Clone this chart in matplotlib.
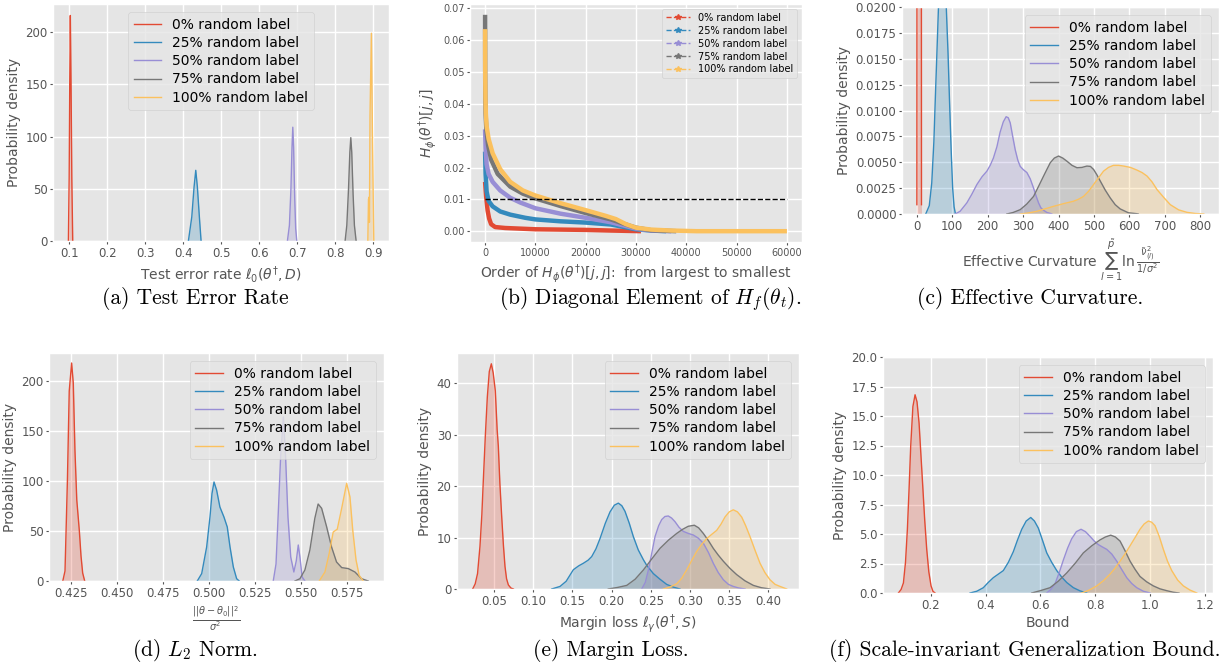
import matplotlib
matplotlib.use('Agg')
import matplotlib.pyplot as plt
from matplotlib.lines import Line2D

plt.style.use('ggplot')
plt.rcParams['font.family'] = ['DejaVu Sans']

labels = ['0% random label', '25% random label', '50% random label',
          '75% random label', '100% random label']
colors = ['#E24A33', '#348ABD', '#988ED5', '#777777', '#FBC15E']

# ---------------- (a) Test error rate densities ----------------
err_x = [
    [0.0975, 0.0995, 0.1010, 0.1026, 0.1045, 0.1065, 0.1089],
    [0.4132, 0.4221, 0.4282, 0.4326, 0.4368, 0.4421, 0.4466],
    [0.6737, 0.679, 0.683, 0.6858, 0.6879, 0.6900, 0.6930, 0.6955, 0.6984],
    [0.8255, 0.830, 0.8345, 0.8380, 0.8405, 0.843, 0.8465, 0.850, 0.8545],
    [0.8853, 0.8870, 0.8885, 0.8895, 0.8910, 0.8947, 0.8975, 0.9010],
]
err_y = [
    [0, 60, 150, 216, 150, 60, 0],
    [0, 23, 52, 67.7, 52, 23, 0],
    [0, 15, 50, 90, 109, 90, 40, 12, 0],
    [0, 15, 50, 85, 99, 85, 45, 15, 0],
    [0, 40, 42, 18, 120, 199, 100, 0],
]

# ---------------- (b) sorted diagonal Hessian elements ----------------
diag_x = [
    [0, 200, 500, 800, 1200, 2000, 4000, 10000, 15000, 20000, 25000, 28000, 31000],
    [0, 100, 300, 700, 1500, 3000, 5000, 8000, 10000, 15000, 20000, 25000, 28000, 30000, 33000, 36000],
    [0, 100, 300, 700, 1500, 3000, 5000, 7000, 10000, 15000, 20000, 25000, 28000, 30000, 33000, 37000],
    [0, 15, 40, 100, 250, 600, 1200, 2500, 5000, 7500, 10000, 15000, 20000, 25000, 28000, 30000, 33000, 38000],
    [0, 10, 30, 70, 150, 300, 700, 1500, 3000, 5000, 7500, 10000, 15000, 20000, 24000, 26000, 28000, 30000,
     33000, 37000, 42000, 60000],
]
diag_y = [
    [0.0155, 0.011, 0.0065, 0.004, 0.0022, 0.0013, 0.001, 0.0006, 0.0005, 0.0004, 0.0002, 0.0001, 0.0],
    [0.025, 0.018, 0.0125, 0.0095, 0.0078, 0.0062, 0.0052, 0.0042, 0.0037, 0.0031, 0.0027, 0.0021, 0.0012,
     0.0006, 0.0002, 0.0],
    [0.032, 0.026, 0.021, 0.018, 0.0155, 0.0128, 0.0105, 0.009, 0.0072, 0.0055, 0.0042, 0.0028, 0.0016,
     0.0008, 0.0002, 0.0],
    [0.068, 0.05, 0.043, 0.037, 0.032, 0.027, 0.0225, 0.018, 0.014, 0.0118, 0.0103, 0.0079, 0.0057, 0.0037,
     0.0021, 0.0011, 0.0003, 0.0],
    [0.0635, 0.055, 0.048, 0.042, 0.037, 0.033, 0.029, 0.0245, 0.0195, 0.0155, 0.0128, 0.0112, 0.0088, 0.0066,
     0.0048, 0.0038, 0.0022, 0.0011, 0.0005, 0.0002, 0.0, 0.0],
]
diag_threshold = 0.01

# ---------------- (c) effective curvature densities ----------------
curv_x = [
    [0, 0.3, 6.5, 12.7, 13],
    [25, 35, 42, 48, 52, 57, 61, 66, 72, 78, 83, 88, 92, 97, 101, 105, 109],
    [108, 122, 141, 155, 169.5, 184, 197.7, 207, 216, 226, 235, 244, 252, 258, 263.6, 270, 277.7, 285, 291.8,
     300, 310.7, 320, 329.5, 337, 343.6, 350, 357.7, 367, 376.6, 381],
    [254, 272, 291.8, 310, 329.5, 344, 357.7, 367, 376.6, 388, 400, 412, 423.7, 438, 452, 466, 480, 490, 499,
     508, 518, 532, 546, 560, 574, 597, 621, 625],
    [292, 315, 339, 362, 386, 414, 442, 456, 470.6, 485, 499, 513, 527, 541, 555, 570, 584, 603, 621.5, 636,
     650, 664, 678, 697, 715.5, 739, 762.6, 786, 810],
]
curv_y = [
    [0.0009, 0.03, 0.05, 0.03, 0.0009],
    [0, 0.0008, 0.003, 0.007, 0.0111, 0.016, 0.02, 0.024, 0.0255, 0.024, 0.02, 0.0155, 0.0111, 0.006,
     0.0025, 0.0007, 0],
    [0, 0.00026, 0.00107, 0.0019, 0.00285, 0.0036, 0.00414, 0.0047, 0.0054, 0.0065, 0.0079, 0.0089, 0.0094,
     0.0093, 0.0088, 0.0076, 0.0062, 0.0052, 0.0046, 0.0043, 0.004, 0.0034, 0.0025, 0.0017, 0.00107, 0.0006,
     0.00036, 0.00015, 0.00006, 0],
    [0, 0.00015, 0.00042, 0.00095, 0.0017, 0.0027, 0.00366, 0.0043, 0.00495, 0.0054, 0.0056, 0.0054, 0.0051,
     0.0047, 0.00447, 0.0045, 0.00463, 0.0046, 0.0043, 0.0038, 0.00317, 0.0023, 0.00155, 0.0009, 0.00049,
     0.00012, 0.00003, 0],
    [0, 0.0001, 0.00026, 0.0005, 0.00074, 0.001, 0.00123, 0.00142, 0.0017, 0.0022, 0.00285, 0.0035, 0.00414,
     0.0045, 0.0047, 0.0047, 0.00463, 0.0045, 0.00424, 0.004, 0.00366, 0.0031, 0.00236, 0.0016, 0.0009,
     0.0004, 0.00016, 0.00005, 0],
]

# ---------------- (d) L2 norm densities ----------------
norm_x = [
    [0.4207, 0.4219, 0.4232, 0.4242, 0.4255, 0.4264, 0.4273, 0.4283, 0.4297, 0.4306, 0.4315, 0.4326],
    [0.4938, 0.4962, 0.4989, 0.5007, 0.5018, 0.5029, 0.5043, 0.5061, 0.5083, 0.5101, 0.5116, 0.5134,
     0.5152, 0.5166],
    [0.5351, 0.5366, 0.5378, 0.5391, 0.5406, 0.5418, 0.5431, 0.5446, 0.5463, 0.5476, 0.5487, 0.5496,
     0.5508, 0.5523],
    [0.5469, 0.5496, 0.5523, 0.555, 0.5577, 0.5595, 0.5614, 0.5641, 0.5668, 0.5695, 0.5723, 0.5759,
     0.5795, 0.5831, 0.5867],
    [0.5601, 0.5632, 0.5655, 0.5677, 0.5699, 0.5723, 0.575, 0.5768, 0.5783, 0.5801, 0.5818, 0.584],
]
norm_y = [
    [0, 10, 100, 190, 218, 198, 131, 81, 50, 25, 8, 0],
    [0, 7.4, 34, 64, 87.5, 99, 91, 74, 64, 54, 34, 14, 2.3, 0],
    [0, 17, 67, 124, 164, 124, 64, 24, 9, 20, 36, 24, 4, 0],
    [0, 2.3, 11, 31, 62.7, 77, 72.7, 54.3, 34, 19, 13.4, 12.4, 9, 2.3, 0],
    [0, 9, 27.5, 49, 51.8, 72.7, 97.7, 84, 51, 21, 5.7, 0],
]

# ---------------- (e) margin loss densities ----------------
margin_x = [
    [0.0228, 0.0260, 0.0290, 0.0321, 0.0345, 0.0364, 0.039, 0.0415, 0.044, 0.0466, 0.049, 0.0517, 0.054,
     0.0555, 0.0575, 0.0598, 0.062, 0.064, 0.066, 0.0683, 0.0715, 0.0747],
    [0.1236, 0.1342, 0.1420, 0.1512, 0.1580, 0.1639, 0.1700, 0.1746, 0.1800, 0.1852, 0.1920, 0.198, 0.2035,
     0.2086, 0.213, 0.2171, 0.2225, 0.2277, 0.234, 0.2405, 0.2448, 0.2532, 0.2617, 0.2702, 0.2790, 0.2872],
    [0.2384, 0.2430, 0.2469, 0.2510, 0.2554, 0.2600, 0.2639, 0.268, 0.2723, 0.2765, 0.2808, 0.286, 0.2915,
     0.298, 0.3042, 0.3105, 0.317, 0.3235, 0.3297, 0.336, 0.3425, 0.349, 0.3552, 0.3620, 0.3702],
    [0.1958, 0.2075, 0.2193, 0.230, 0.2405, 0.251, 0.2617, 0.2725, 0.283, 0.2905, 0.2978, 0.3055, 0.311,
     0.317, 0.3235, 0.3297, 0.336, 0.3425, 0.351, 0.3595, 0.370, 0.3808, 0.391, 0.402],
    [0.266, 0.2745, 0.283, 0.2895, 0.2957, 0.302, 0.3085, 0.315, 0.3212, 0.3275, 0.334, 0.3395, 0.3446,
     0.350, 0.3552, 0.3605, 0.3659, 0.371, 0.3765, 0.383, 0.3893, 0.3955, 0.402, 0.4085, 0.4148, 0.4233],
]
margin_y = [
    [0, 1.0, 3.0, 8.3, 14.5, 21.2, 30, 37.4, 42.3, 43.8, 42.0, 38.5, 31, 27.8, 20.5, 14.1, 8.5, 4.4, 2.0,
     0.8, 0.2, 0],
    [0, 0.5, 1.5, 3.75, 4.5, 5.0, 5.6, 6.3, 7.8, 9.8, 12.8, 15.0, 16.3, 16.7, 16.2, 15.1, 12.8, 10.2, 7.6,
     5.7, 4.6, 3.0, 1.9, 0.9, 0.35, 0],
    [0, 1.3, 3.7, 6.8, 10.2, 12.3, 13.5, 14.1, 14.2, 13.8, 13.1, 12.0, 11.2, 10.8, 10.5, 9.9, 8.9, 7.1, 5.0,
     3.2, 1.8, 0.9, 0.5, 0.2, 0],
    [0, 0.3, 0.7, 1.9, 3.7, 5.8, 7.9, 9.5, 10.8, 11.6, 12.2, 12.4, 11.9, 10.8, 9.4, 7.9, 6.6, 5.4, 4.0, 2.8,
     1.6, 0.7, 0.25, 0],
    [0, 0.4, 1.0, 2.1, 3.7, 5.5, 7.3, 8.7, 9.8, 10.6, 11.4, 12.6, 14.0, 15.0, 15.4, 15.0, 14.0, 12.3, 10.2,
     7.5, 5.0, 3.2, 1.8, 0.9, 0.5, 0],
]

# ---------------- (f) generalization bound densities ----------------
bound_x = [
    [0.0821, 0.092, 0.1004, 0.108, 0.1149, 0.121, 0.1271, 0.135, 0.1429, 0.150, 0.1575, 0.164, 0.1708, 0.178,
     0.1854, 0.193, 0.2012, 0.208, 0.2158],
    [0.3433, 0.368, 0.3918, 0.41, 0.4282, 0.4465, 0.4647, 0.483, 0.5011, 0.5165, 0.5318, 0.548, 0.5646, 0.578,
     0.5923, 0.607, 0.6229, 0.641, 0.6594, 0.6775, 0.6958, 0.72, 0.7443, 0.7687],
    [0.6229, 0.638, 0.6532, 0.668, 0.6836, 0.699, 0.714, 0.731, 0.748, 0.764, 0.7808, 0.796, 0.811, 0.826,
     0.8416, 0.86, 0.878, 0.896, 0.9145, 0.933, 0.951, 0.975, 0.9995],
    [0.5682, 0.60, 0.635, 0.665, 0.6958, 0.726, 0.7564, 0.787, 0.8172, 0.837, 0.8562, 0.873, 0.8902, 0.908,
     0.9266, 0.945, 0.963, 0.987, 1.0116, 1.036, 1.06, 1.083, 1.105],
    [0.7505, 0.778, 0.8052, 0.83, 0.8537, 0.872, 0.8902, 0.908, 0.9266, 0.945, 0.963, 0.978, 0.9934, 1.0055,
     1.0177, 1.033, 1.048, 1.063, 1.0786, 1.10, 1.121, 1.145, 1.17],
]
bound_y = [
    [0, 0.3, 0.85, 2.6, 5.4, 8.8, 12.5, 15.8, 16.8, 16.2, 14.4, 11.8, 9.1, 6.2, 3.7, 1.8, 0.6, 0.15, 0],
    [0, 0.15, 0.45, 0.9, 1.3, 1.6, 1.9, 2.6, 3.5, 4.5, 5.4, 6.1, 6.4, 6.1, 5.5, 4.5, 3.4, 2.6, 1.9, 1.35,
     0.89, 0.45, 0.18, 0],
    [0, 0.3, 0.79, 1.7, 2.8, 3.8, 4.6, 5.2, 5.4, 5.2, 4.8, 4.4, 4.1, 3.9, 3.7, 3.3, 2.7, 2.0, 1.3, 0.8, 0.45,
     0.15, 0],
    [0, 0.2, 0.45, 1.0, 1.7, 2.5, 3.4, 4.0, 4.5, 4.75, 4.9, 4.75, 4.4, 3.6, 2.7, 2.0, 1.4, 0.95, 0.6, 0.35,
     0.2, 0.07, 0],
    [0, 0.25, 0.6, 1.05, 1.6, 2.1, 2.7, 3.3, 4.0, 4.7, 5.4, 5.85, 6.1, 6.0, 5.7, 4.8, 3.7, 2.7, 1.9, 1.1, 0.6,
     0.25, 0],
]

# ======================= drawing =======================
W, H = 1232, 666
fig = plt.figure(figsize=(W / 100, H / 100), dpi=100)


def px_axes(l, t, r, b):
    return fig.add_axes([l / W, (H - b) / H, (r - l) / W, (b - t) / H])


TICK = 8.5
LAB = 10


def style_ticks(ax, size):
    ax.tick_params(labelsize=size, length=2.5, pad=1.5, colors='#555555')
    ax.grid(True, color='white', lw=1)


def kde_panel(ax, xs, ys):
    for x, y, c, lab in zip(xs, ys, colors, labels):
        ax.fill_between(x, y, 0, color=c, alpha=0.25, lw=0)
        ax.plot(x, y, color=c, lw=1.0, label=lab)
    style_ticks(ax, TICK)
    ax.set_ylabel('Probability density', fontsize=LAB, labelpad=3)


def kde_legend(ax, loc):
    ax.legend(loc=loc, fontsize=10, labelspacing=0.3, handlelength=2.0,
              borderpad=0.4, borderaxespad=0.6)


# (a)
ax = px_axes(53, 4, 389, 241)
kde_panel(ax, err_x, err_y)
ax.set_xlim(0.057, 0.941)
ax.set_ylim(0, 227)
ax.set_xticks([0.1, 0.2, 0.3, 0.4, 0.5, 0.6, 0.7, 0.8, 0.9])
ax.set_yticks([0, 50, 100, 150, 200])
ax.set_xlabel(r'Test error rate $\ell_0(\theta^{\dagger}, D)$', fontsize=LAB, labelpad=3)
kde_legend(ax, 'upper center')

# (b)
ax = px_axes(470, 4, 802, 242)
for x, y, c in zip(diag_x, diag_y, colors):
    ax.plot(x, y, color=c, lw=3.2, solid_capstyle='butt')
ax.hlines(diag_threshold, 0, diag_x[-1][-1], colors='black', linestyles='--', lw=1)
ax.margins(0.05)
style_ticks(ax, 7)
ax.set_xticks([0, 10000, 20000, 30000, 40000, 50000, 60000])
ax.set_xlabel(r'Order of $H_{\phi}(\theta^{\dagger})[j,j]$:  from largest to smallest', fontsize=LAB,
              labelpad=3)
ax.set_ylabel(r'$H_{\phi}(\theta^{\dagger})[j,j]$', fontsize=LAB, labelpad=3)
handles = [Line2D([], [], color=c, ls='--', lw=1, marker='*', ms=4) for c in colors]
ax.legend(handles, labels, loc='upper right', fontsize=7, labelspacing=0.3,
          handlelength=2.5, borderpad=0.4, borderaxespad=0.5)

# (c)
ax = px_axes(902, 7, 1219, 214)
kde_panel(ax, curv_x, curv_y)
ax.set_xlim(-42, 853)
ax.set_ylim(0, 0.02)
ax.set_xticks([0, 100, 200, 300, 400, 500, 600, 700, 800])
ax.set_yticks([0, 0.0025, 0.005, 0.0075, 0.01, 0.0125, 0.015, 0.0175, 0.02])
ax.set_xlabel(r'Effective Curvature $\sum_{l=1}^{\tilde{p}}\ln\frac{\tilde{\nu}_{(l)}^2}{1/\sigma^2}$',
              fontsize=LAB, labelpad=3)
kde_legend(ax, 'upper right')

# (d)
ax = px_axes(49, 353, 384, 581)
kde_panel(ax, norm_x, norm_y)
ax.set_xlim(0.4132, 0.5953)
ax.set_ylim(0, 228)
ax.set_xticks([0.425, 0.45, 0.475, 0.5, 0.525, 0.55, 0.575])
ax.set_yticks([0, 50, 100, 150, 200])
ax.set_xlabel(r'$\frac{||\theta-\theta_0||^2}{\sigma^2}$', fontsize=LAB, labelpad=3)
kde_legend(ax, 'upper right')

# (e)
ax = px_axes(457, 353, 799, 589)
kde_panel(ax, margin_x, margin_y)
ax.set_xlim(0.0028, 0.439)
ax.set_ylim(0, 45.9)
ax.set_xticks([0.05, 0.1, 0.15, 0.2, 0.25, 0.3, 0.35, 0.4])
ax.set_yticks([0, 10, 20, 30, 40])
ax.set_xlabel(r'Margin loss $\ell_{\gamma}(\theta^{\dagger}, S)$', fontsize=LAB, labelpad=3)
kde_legend(ax, 'upper right')

# (f)
ax = px_axes(883, 357, 1213, 593)
kde_panel(ax, bound_x, bound_y)
ax.set_xlim(0.026, 1.229)
ax.set_ylim(0, 20)
ax.set_xticks([0.2, 0.4, 0.6, 0.8, 1.0, 1.2])
ax.set_yticks([0, 2.5, 5, 7.5, 10, 12.5, 15, 17.5, 20])
ax.set_xlabel('Bound', fontsize=LAB, labelpad=3)
kde_legend(ax, 'upper right')

# captions
cap = dict(ha='center', va='center', fontsize=15.5, family='cmr10', math_fontfamily='cm', color='black')
fig.text(195 / W, 1 - 299 / H, '(a) Test Error Rate', **cap)
fig.text(650 / W, 1 - 299 / H, r'(b) Diagonal Element of $H_f(\theta_t)$.', **cap)
fig.text(1030 / W, 1 - 299 / H, '(c) Effective Curvature.', **cap)
fig.text(195 / W, 1 - 651 / H, r'(d) $L_2$ Norm.', **cap)
fig.text(611 / W, 1 - 651 / H, '(e) Margin Loss.', **cap)
fig.text(1025 / W, 1 - 651 / H, '(f) Scale-invariant Generalization Bound.', **cap)

fig.savefig('out.png', dpi=100)
